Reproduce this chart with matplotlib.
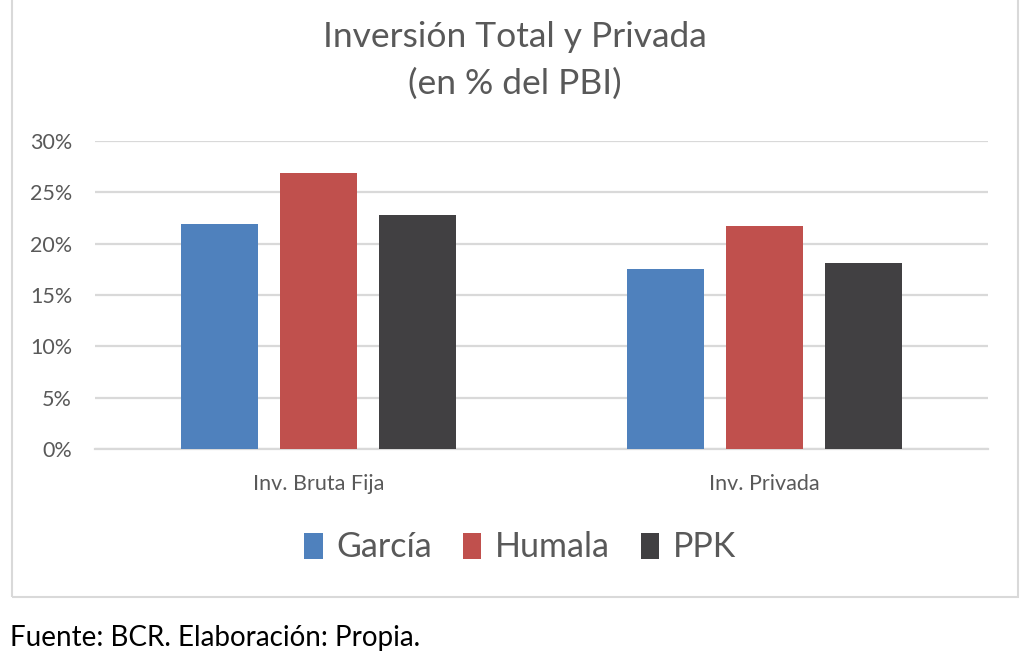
import matplotlib
matplotlib.use('Agg')
from matplotlib import pyplot as plt
from matplotlib.patches import Rectangle
import numpy as np

categories = ['Inv. Bruta Fija', 'Inv. Privada']
series = ['García', 'Humala', 'PPK']
garcia = [21.9, 17.55]
humala = [26.85, 21.7]
ppk = [22.75, 18.1]
colors = ['#4F81BD', '#C0504D', '#414042']
yticks = [0, 5, 10, 15, 20, 25, 30]

plt.rcParams['font.family'] = ['Lato', 'DejaVu Sans']
text_color = '#595959'
grid_color = '#D9D9D9'

fig = plt.figure(figsize=(10.24, 6.72), dpi=100)
ax = fig.add_axes([0.0928, 0.332, 0.872, 0.458])

x = np.arange(len(categories))
width = 0.172
offset = 0.222
for i, (name, vals) in enumerate(zip(series, [garcia, humala, ppk])):
    ax.bar(x + (i - 1) * offset, vals, width, color=colors[i], label=name, zorder=3)

ax.set_xlim(-0.5, 1.5)
ax.set_ylim(0, 30)
ax.set_yticks(yticks)
ax.set_yticklabels([f'{v}%' for v in yticks], fontsize=15.5, color=text_color)
ax.set_xticks(x)
ax.set_xticklabels(categories, fontsize=15.5, color=text_color)
ax.tick_params(axis='y', length=0, pad=16.5)
ax.tick_params(axis='x', length=0, pad=18)
ax.grid(axis='y', color=grid_color, linewidth=1.6, zorder=0)
for s in ['top', 'right', 'left']:
    ax.spines[s].set_visible(False)
ax.spines['bottom'].set_color(grid_color)
ax.spines['bottom'].set_linewidth(1.6)

fig.text(0.503, 0.945, 'Inversión Total y Privada', ha='center', va='center',
         fontsize=25.5, color=text_color)
fig.text(0.503, 0.876, '(en % del PBI)', ha='center', va='center',
         fontsize=25.5, color=text_color)

ax.legend(loc='center', bbox_to_anchor=(0.508, 0.1855), bbox_transform=fig.transFigure,
          ncol=3, frameon=False, fontsize=24.5, handlelength=0.55, handleheight=0.8,
          handletextpad=0.4, columnspacing=0.9, labelcolor=text_color)

fig.patches.append(Rectangle((12 / 1024, 1 - 597 / 672), 1006 / 1024, 597 / 672 + 0.01,
                             transform=fig.transFigure, fill=False,
                             edgecolor=grid_color, linewidth=1.5))

fig.text(10 / 1024, 1 - 638 / 672, 'Fuente: BCR. Elaboración: Propia.', ha='left',
         va='center', fontsize=20, color='black')

fig.savefig('out.png', dpi=100)
